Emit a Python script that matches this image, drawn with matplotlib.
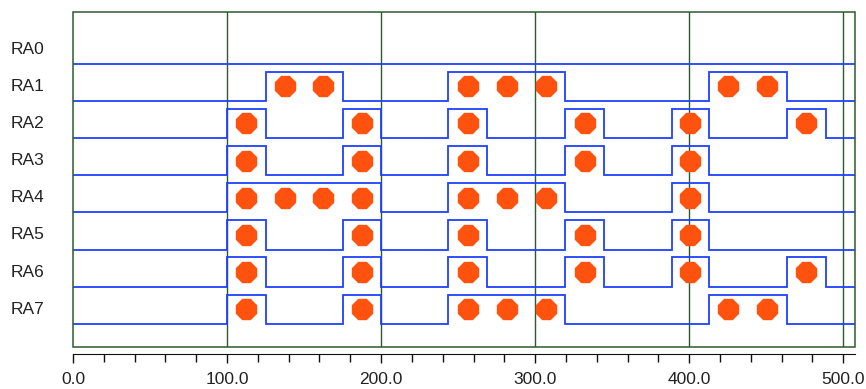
import matplotlib
matplotlib.use('Agg')
import matplotlib.pyplot as plt
from matplotlib.patches import Rectangle
from matplotlib.ticker import MultipleLocator, FormatStrFormatter
import matplotlib.transforms as mtrans

plt.rcParams['font.family'] = ['Liberation Sans', 'DejaVu Sans']

channels = ['RA0', 'RA1', 'RA2', 'RA3', 'RA4', 'RA5', 'RA6', 'RA7']

# sample slots (start, end) in time units
slots = [(100, 125), (125, 150), (150, 175), (175, 200),
         (243.5, 269), (269, 294), (294, 319.5), (319.5, 344.6),
         (388.5, 412.8), (412.8, 437.5), (437.5, 463.2), (463.2, 488.6)]

# logic level of each channel in each slot
bits = {
    'RA0': [0, 0, 0, 0, 0, 0, 0, 0, 0, 0, 0, 0],
    'RA1': [0, 1, 1, 0, 1, 1, 1, 0, 0, 1, 1, 0],
    'RA2': [1, 0, 0, 1, 1, 0, 0, 1, 1, 0, 0, 1],
    'RA3': [1, 0, 0, 1, 1, 0, 0, 1, 1, 0, 0, 0],
    'RA4': [1, 1, 1, 1, 1, 1, 1, 0, 1, 0, 0, 0],
    'RA5': [1, 0, 0, 1, 1, 0, 0, 1, 1, 0, 0, 0],
    'RA6': [1, 0, 0, 1, 1, 0, 0, 1, 1, 0, 0, 1],
    'RA7': [1, 0, 0, 1, 1, 1, 1, 0, 0, 1, 1, 0],
}

x_max = 507.6
high = 0.79
blue = '#2040ff'
green = '#2d5a2d'
orange = '#ff520e'

fig = plt.figure(figsize=(8.66, 3.89), dpi=100)
ax = fig.add_axes([73 / 866, 1 - 346.7 / 389, (855 - 73) / 866, (346.7 - 12) / 389])

for t in range(100, 501, 100):
    ax.axvline(t, color=green, lw=1.0, zorder=1)

for i, name in enumerate(channels):
    base = -i
    xs, ys = [0], [base]
    prev_end = 0
    for (s, e), b in zip(slots, bits[name]):
        lvl = base + high * b
        if s != prev_end:
            xs += [prev_end, s]
            ys += [base, base]
        xs += [s, e]
        ys += [lvl, lvl]
        prev_end = e
    xs += [prev_end, x_max]
    ys += [base, base]
    ax.plot(xs, ys, color=blue, lw=1.3, zorder=2, solid_joinstyle='miter')

    dots = [(s + e) / 2 for (s, e), b in zip(slots, bits[name]) if b]
    ax.plot(dots, [base + high / 2] * len(dots), ls='none', marker='8',
            ms=16, mfc=orange, mec=orange, zorder=3)

    tr = mtrans.blended_transform_factory(fig.transFigure, ax.transData)
    ax.text(11 / 866, base + high / 2, name, transform=tr, ha='left', va='center',
            fontsize=12.5, color='#222222')

ax.set_xlim(0, x_max)
ax.set_ylim(-7.61, 1.39)
ax.set_yticks([])

for s in ['top', 'right', 'left']:
    ax.spines[s].set_visible(False)
ax.spines['bottom'].set_position(('outward', 5.6))
ax.spines['bottom'].set_color('#111111')
ax.add_patch(Rectangle((0, 0), 1, 1, transform=ax.transAxes, fill=False,
                       ec=green, lw=1.1, clip_on=False, zorder=4))

ax.xaxis.set_major_locator(MultipleLocator(100))
ax.xaxis.set_minor_locator(MultipleLocator(20))
ax.xaxis.set_major_formatter(FormatStrFormatter('%.1f'))
ax.tick_params(axis='x', which='major', length=6.5, width=1, labelsize=12.5,
               pad=6, color='#111111', labelcolor='#222222')
ax.tick_params(axis='x', which='minor', length=6, width=1, color='#111111')

fig.savefig('out.png', dpi=100)
